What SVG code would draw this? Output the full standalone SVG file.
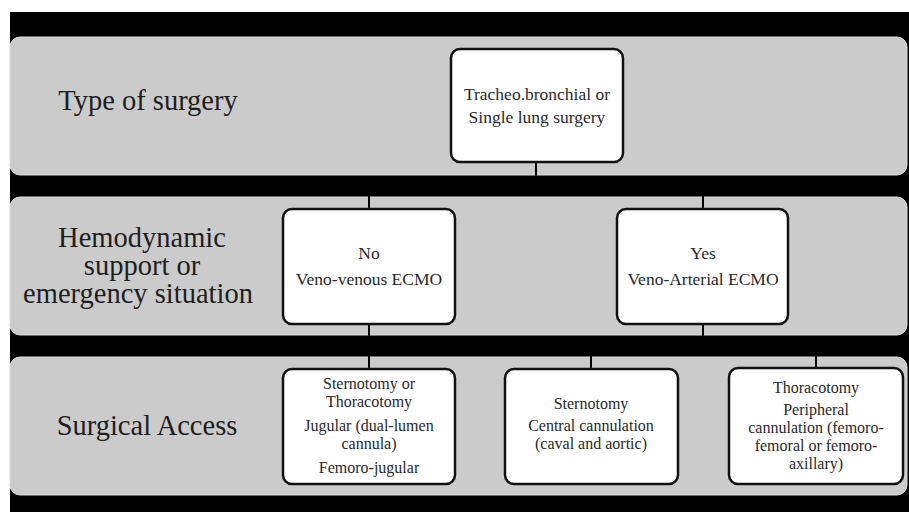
<svg xmlns="http://www.w3.org/2000/svg" width="909" height="512" viewBox="0 0 909 512">
<style>
.band{fill:#cbcbcb;stroke:#dcdcdc;stroke-width:1}
.box{fill:#ffffff;stroke:#111111;stroke-width:2.5}
.lbl{font-family:"Liberation Serif","Times New Roman",serif;font-size:28.5px;fill:#1e1e1e;text-anchor:middle}
.txt{font-family:"Liberation Serif","Times New Roman",serif;font-size:17.5px;fill:#2a2a2a;text-anchor:middle}
.sm{font-size:16px}
.con{fill:none;stroke:#000000;stroke-width:2}
</style>
<rect x="0" y="0" width="909" height="512" fill="#ffffff"/>
<rect x="10" y="12" width="899" height="500" fill="#000000"/>
<g id="bands">
<rect class="band" x="10" y="37" width="897" height="138" rx="10"/>
<rect class="band" x="10" y="197" width="897" height="138" rx="10"/>
<rect class="band" x="10" y="357" width="897" height="138" rx="10"/>
</g>
<g id="connectors">
<path class="con" d="M536 162 V186 H369 V209 M536 186 H703 V209"/>
<path class="con" d="M369 324 V369"/>
<path class="con" d="M703 324 V346 H591 V369 M703 346 H816 V368"/>
</g>
<g id="label-type">
<text class="lbl" x="148" y="110">Type of surgery</text>
</g>
<g id="label-hemo">
<text class="lbl" x="142" y="247">Hemodynamic</text>
<text class="lbl" x="142" y="275">support or</text>
<text class="lbl" x="138" y="303">emergency situation</text>
</g>
<g id="label-access">
<text class="lbl" x="147" y="435">Surgical Access</text>
</g>
<g id="node-surgery">
<rect class="box" x="451" y="49" width="172" height="113" rx="9"/>
<text class="txt" x="537" y="100">Tracheo.bronchial or</text>
<text class="txt" x="537" y="123">Single lung surgery</text>
</g>
<g id="node-no">
<rect class="box" x="283" y="209" width="172" height="115" rx="9"/>
<text class="txt" x="369" y="259">No</text>
<text class="txt" x="369" y="285">Veno-venous ECMO</text>
</g>
<g id="node-yes">
<rect class="box" x="617" y="209" width="171" height="115" rx="9"/>
<text class="txt" x="703" y="259">Yes</text>
<text class="txt" x="703" y="285">Veno-Arterial ECMO</text>
</g>
<g id="node-vv-access">
<rect class="box" x="283" y="369" width="172" height="115" rx="9"/>
<text class="txt sm" x="369" y="389">Sternotomy or</text>
<text class="txt sm" x="369" y="407">Thoracotomy</text>
<text class="txt sm" x="369" y="431">Jugular (dual-lumen</text>
<text class="txt sm" x="369" y="449">cannula)</text>
<text class="txt sm" x="369" y="473">Femoro-jugular</text>
</g>
<g id="node-central">
<rect class="box" x="505" y="369" width="173" height="115" rx="9"/>
<text class="txt sm" x="591" y="409">Sternotomy</text>
<text class="txt sm" x="591" y="431">Central cannulation</text>
<text class="txt sm" x="591" y="449">(caval and aortic)</text>
</g>
<g id="node-peripheral">
<rect class="box" x="729" y="368" width="174" height="116" rx="9"/>
<text class="txt sm" x="816" y="393">Thoracotomy</text>
<text class="txt sm" x="816" y="415">Peripheral</text>
<text class="txt sm" x="816" y="433">cannulation (femoro-</text>
<text class="txt sm" x="816" y="451">femoral or femoro-</text>
<text class="txt sm" x="816" y="469">axillary)</text>
</g>
</svg>
